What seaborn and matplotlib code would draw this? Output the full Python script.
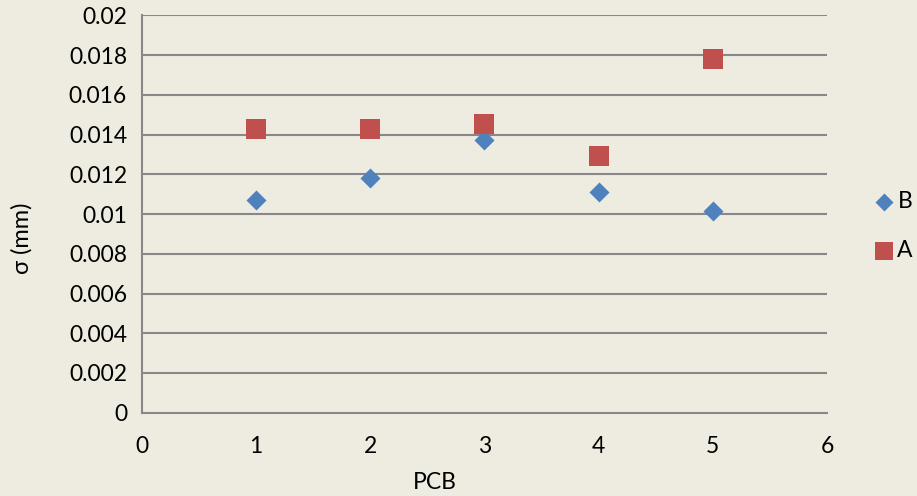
import matplotlib
matplotlib.use("Agg")
import matplotlib.pyplot as plt
import seaborn as sns
import pandas as pd

pcb = [1, 2, 3, 4, 5]
sigma_b = [0.01073, 0.01184, 0.01372, 0.01111, 0.01013]
sigma_a = [0.01428, 0.01429, 0.01456, 0.01293, 0.01783]
x_ticks = [0, 1, 2, 3, 4, 5, 6]
y_ticks = [0, 0.002, 0.004, 0.006, 0.008, 0.01, 0.012, 0.014, 0.016, 0.018, 0.02]
y_tick_labels = ["0", "0.002", "0.004", "0.006", "0.008", "0.01", "0.012",
                 "0.014", "0.016", "0.018", "0.02"]

bg = "#EEECE1"
grid_c = "#888888"

sns.set_theme(style="white")
plt.rcParams["font.family"] = ["Lato", "DejaVu Sans"]
plt.rcParams["text.color"] = "black"
plt.rcParams["axes.labelcolor"] = "black"

fig = plt.figure(figsize=(9.17, 4.96), dpi=100, facecolor=bg)
ax = fig.add_axes([0.1545, 0.168, 0.9018 - 0.1545, 0.9688 - 0.168])
ax.set_facecolor(bg)

df_b = pd.DataFrame({"PCB": pcb, "sigma": sigma_b})
df_a = pd.DataFrame({"PCB": pcb, "sigma": sigma_a})

sns.scatterplot(data=df_b, x="PCB", y="sigma", ax=ax, marker="D", s=104,
                color="#4F81BD", linewidth=0, label="B", zorder=3)
sns.scatterplot(data=df_a, x="PCB", y="sigma", ax=ax, marker="s", s=200,
                color="#C0504D", linewidth=0, label="A", zorder=3)

ax.set_xlim(0, 6)
ax.set_ylim(0, 0.02)
ax.set_xticks(x_ticks)
ax.set_xticklabels([str(v) for v in x_ticks])
ax.set_yticks(y_ticks)
ax.set_yticklabels(y_tick_labels)
ax.yaxis.grid(True, color=grid_c, linewidth=1.5)
ax.xaxis.grid(False)
ax.set_axisbelow(True)

for s in ["top", "right"]:
    ax.spines[s].set_visible(False)
for s in ["left", "bottom"]:
    ax.spines[s].set_color(grid_c)
    ax.spines[s].set_linewidth(1.5)

ax.tick_params(axis="both", which="major", labelsize=16.5, labelcolor="black",
               length=6.5, width=1.5, direction="out", color=grid_c)
ax.tick_params(axis="x", pad=10)
ax.tick_params(axis="y", pad=4)

ax.set_xlabel("PCB", fontsize=16.5, color="black")
ax.set_ylabel("σ (mm)", fontsize=17, color="black")
ax.xaxis.set_label_coords(0.428, -0.149)
ax.yaxis.set_label_coords(-0.159, 0.44)

leg = ax.legend(loc="center left", bbox_to_anchor=(1.066, 0.47), frameon=False,
                fontsize=16.5, handletextpad=0.1, handlelength=1.0,
                labelspacing=1.25, markerscale=0.9, borderaxespad=0, borderpad=0)
for t in leg.get_texts():
    t.set_color("black")

fig.savefig("out.png", dpi=100, facecolor=bg)
